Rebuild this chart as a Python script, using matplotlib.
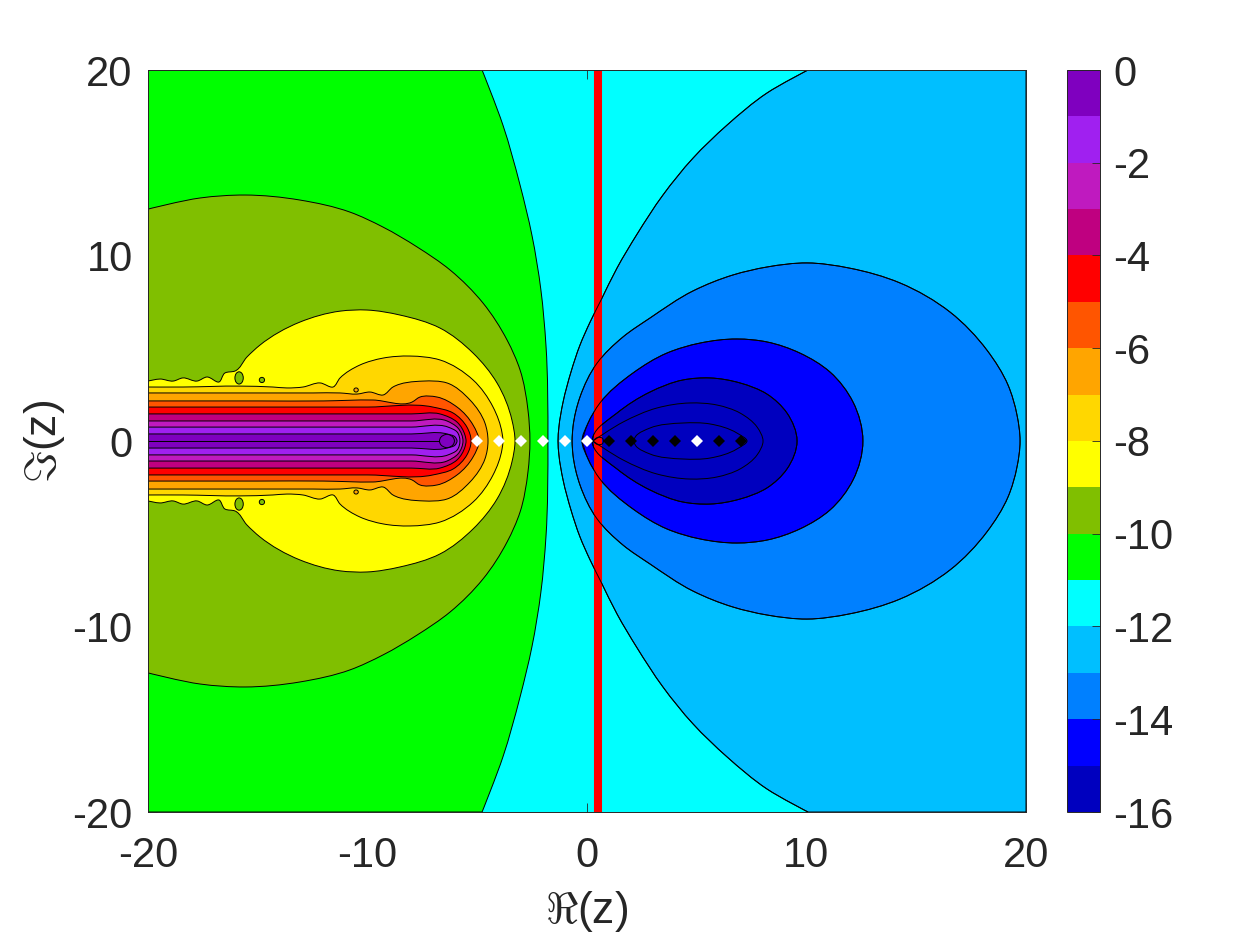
"""
Contour map of log error over the complex plane, outlines traced from the picture
"""
import matplotlib
matplotlib.use('Agg')
import matplotlib.pyplot as plt
from matplotlib.cm import ScalarMappable
from matplotlib.colors import BoundaryNorm, ListedColormap
from matplotlib.patches import Ellipse, PathPatch
from matplotlib.path import Path
import numpy as np

plt.rcParams['font.family'] = ['Liberation Sans', 'DejaVu Sans']
plt.rcParams['mathtext.fontset'] = 'cm'
plt.rcParams['axes.unicode_minus'] = False

levels = list(range(-16, 1))
band_colors = ['#0000BF', '#0000FF', '#0080FF', '#00BFFF', '#00FFFF', '#00FF00', '#80BF00', '#FFFF00',
               '#FFD700', '#FFA500', '#FF5500', '#FF0000', '#BF0080', '#BF1ABF', '#A020F0', '#7F00BF']
axis_ticks = [-20, -10, 0, 10, 20]
cbar_ticks = list(range(-16, 1, 2))

# upper half of each contour, the lower half is its mirror image
c11_x = [-4.78, -3.83, -3.05, -2.51, -2.1, -1.87, -1.78]
c11_y = [20, 17.03, 13.8, 11.1, 8.14, 5.17, 0]
c10_x = [-20, -17.63, -15.58, -13.08, -10.8, -9.29, -7.74, -6.24, -4.74, -3.64, -3.05, -2.69, -2.6]
c10_y = [12.5, 13.1, 13.26, 12.99, 12.34, 11.53, 10.46, 9.22, 7.44, 5.44, 3.83, 1.67, 0]
c9_x = [-20, -19.45, -18.86, -18.41, -17.77, -17.31, -16.77, -16.49, -16.04, -15.49, -14.9, -13.08,
        -11.25, -10.02, -8.52, -6.7, -5.19, -4.1, -3.42, -3.28]
c9_y = [3.23, 3.34, 3.23, 3.4, 3.23, 3.45, 3.18, 3.67, 3.77, 4.53, 5.17, 6.41,
        7.0, 7.06, 6.79, 6.09, 4.74, 3.13, 1.13, 0]
c8_x = [-20, -18.41, -15.81, -14.31, -13.67, -12.94, -12.16, -11.57, -11.25, -10.34, -9.29, -8.06,
        -6.7, -5.19, -4.28, -3.87, -3.83]
c8_y = [2.91, 2.91, 2.96, 2.91, 2.86, 2.91, 3.13, 2.91, 3.4, 4.1, 4.47, 4.58,
        4.37, 3.29, 1.83, 0.43, 0]
c7_x = [-20, -17, -14.31, -12.48, -11.25, -10.48, -9.89, -9.29, -8.84, -7.47, -6.38, -5.33, -4.65, -4.51]
c7_y = [2.59, 2.59, 2.59, 2.59, 2.59, 2.53, 2.64, 2.48, 2.91, 3.23, 3.13, 2.21, 0.97, 0]
c6_x = [-20, -15, -12, -9.75, -7.97, -7.61, -6.83, -5.92, -5.19, -4.92]
c6_y = [2.16, 2.16, 2.16, 2.21, 2.1, 2.37, 2.37, 1.83, 0.86, 0]
c5_x = [-20, -15, -10, -7.02, -6.1, -5.47, -5.28]
c5_y = [1.83, 1.83, 1.83, 1.83, 1.51, 0.75, 0]
c4_x = [-20, -15, -10, -8, -6.7, -5.92, -5.56, -5.51]
c4_y = [1.46, 1.46, 1.46, 1.46, 1.46, 1.02, 0.32, 0]
c3_x = [-20, -15, -10, -8, -6.38, -5.88, -5.65]
c3_y = [1.08, 1.08, 1.08, 1.08, 1.08, 0.7, 0]
c2_x = [-20, -15, -10, -8, -6.33, -5.92, -5.79]
c2_y = [0.75, 0.75, 0.75, 0.75, 0.75, 0.49, 0]
c1_x = [-20, -15, -10, -8, -6.38, -6.01, -5.92]
c1_y = [0.38, 0.38, 0.38, 0.38, 0.38, 0.22, 0]
tip_x = [-6.72, -6.66, -6.38, -6.1, -6.04]
tip_y = [0, 0.2, 0.36, 0.2, 0]

c12_x = [10.07, 8.2, 6.38, 4.83, 3.46, 2.28, 1.37, 0.64, 0.14, -0.32, -0.73, -1.09, -1.28, -1.32]
c12_y = [20, 18.76, 17.03, 15.25, 13.26, 11.15, 9.33, 7.6, 6.41, 5.17, 3.72, 2.1, 0.75, 0]
c13_x = [-0.68, -0.64, -0.32, 0.46, 1.64, 2.87, 4.83, 6.65, 8.2, 10.02, 11.96, 14.26, 16.54, 18.22,
         19.18, 19.59, 19.73]
c13_y = [0, 0.75, 2.37, 4.2, 5.61, 6.63, 8.09, 8.95, 9.38, 9.6, 9.32, 8.52, 6.95, 4.9,
         3.02, 1.4, 0]
c14_x = [-0.23, 0.05, 0.59, 2.1, 3.64, 5.15, 6.83, 8.2, 9.7, 11.07, 12.12, 12.57]
c14_y = [0, 0.97, 2.05, 3.67, 4.74, 5.28, 5.5, 5.34, 4.74, 3.72, 2.1, 0]
c15_x = [0.23, 0.27, 1.37, 2.87, 4.37, 5.6, 6.97, 8.2, 9.11, 9.57]
c15_y = [0, 0.22, 1.51, 2.64, 3.29, 3.4, 3.13, 2.53, 1.51, 0]
c16_x = [0.27, 1.64, 3.19, 4.69, 5.92, 6.97, 7.75, 8.02]
c16_y = [0, 1.02, 1.78, 2.05, 1.94, 1.51, 0.75, 0]
c17_x = [2.1, 2.23, 2.87, 4.37, 5.6, 6.83, 7.29]
c17_y = [0, 0.27, 0.7, 0.97, 0.92, 0.43, 0]
loop_x = [0.27, 0.5, 0.7, 0.75]
loop_y = [0, 0.2, 0.15, 0]

# little islands next to the noisy edge
blob_x = [-15.85, -14.81, -10.52]
blob_y = [3.4, 3.29, 2.75]
blob_w = [0.38, 0.24, 0.2]
blob_h = [0.66, 0.28, 0.22]
blob_colors = ['#80BF00', '#80BF00', '#FFA500']

pole_x = 0.5
white_x = [-5, -4, -3, -2, -1, 0, 5]
black_x = [1, 2, 3, 4, 6, 7]


def mirror(x, y):
    x = list(x)
    y = list(y)
    return np.array(x + x[-2::-1]), np.array(y + [-v for v in y[-2::-1]])


def smooth_path(x, y, closed=False, corners=()):
    pts = np.column_stack([x, y])
    if closed:
        ext = np.vstack([pts[-2], pts, pts[1]])
    else:
        ext = np.vstack([pts[0], pts, pts[-1]])
    seg = np.maximum(np.hypot(*np.diff(ext, axis=0).T), 1e-6)
    # tangents weighted by chord length, the points are unevenly spaced
    tan = np.zeros_like(ext)
    for i in range(1, len(ext) - 1):
        d1, d2 = seg[i - 1], seg[i]
        tan[i] = (d2 * (ext[i] - ext[i - 1]) / d1 + d1 * (ext[i + 1] - ext[i]) / d2) / (d1 + d2)
    verts = [pts[0]]
    codes = [Path.MOVETO]
    for i in range(1, len(ext) - 2):
        d = seg[i]
        verts += [ext[i] + tan[i] * d / 3, ext[i + 1] - tan[i + 1] * d / 3, ext[i + 1]]
        codes += [Path.CURVE4] * 3
    for corner in corners:
        verts.append(corner)
        codes.append(Path.LINETO)
    if corners:
        verts.append(pts[0])
        codes.append(Path.CLOSEPOLY)
    return Path(verts, codes)


def add_band(ax, x, y, color, closed=False, corners=None):
    mx, my = mirror(x, y)
    if corners is None:
        corners = [(mx[-1], my[-1])]
    path = smooth_path(mx, my, closed=closed, corners=() if closed else corners)
    ax.add_patch(PathPatch(path, facecolor=color, edgecolor='black', lw=0.7, zorder=2))


fig = plt.figure(figsize=(12.5, 9.38), dpi=100)
W, H = 1250.0, 938.0
ax = fig.add_axes([148 / W, 1 - 812 / H, 878 / W, 742 / H])
cax = fig.add_axes([1067 / W, 1 - 812 / H, 32.5 / W, 742 / H])

ax.set_facecolor('#00FFFF')
ax.set_xlim(-20, 20)
ax.set_ylim(-20, 20)

color_of = dict(zip(levels[:-1], band_colors))
add_band(ax, c11_x, c11_y, color_of[-11], corners=[(-20, -20), (-20, 20)])
for bx, by, lev in [(c10_x, c10_y, -10), (c9_x, c9_y, -9), (c8_x, c8_y, -8), (c7_x, c7_y, -7),
                    (c6_x, c6_y, -6), (c5_x, c5_y, -5), (c4_x, c4_y, -4), (c3_x, c3_y, -3),
                    (c2_x, c2_y, -2), (c1_x, c1_y, -1)]:
    add_band(ax, bx, by, color_of[lev])
ax.plot([-20, tip_x[0]], [0, 0], color='black', lw=0.7, zorder=3)
add_band(ax, tip_x, tip_y, color_of[-1], closed=True)

for bx, by, bw, bh, bc in zip(blob_x, blob_y, blob_w, blob_h, blob_colors):
    for sign in (1, -1):
        ax.add_patch(Ellipse((bx, sign * by), bw, bh, facecolor=bc, edgecolor='black', lw=0.7, zorder=3))

add_band(ax, c12_x, c12_y, color_of[-13], corners=[(20, -20), (20, 20)])
add_band(ax, c13_x, c13_y, color_of[-14], closed=True)
add_band(ax, c14_x, c14_y, color_of[-15], closed=True)
add_band(ax, c15_x, c15_y, color_of[-16], closed=True)

# red line goes under the contour outlines of the deep levels
ax.plot([pole_x, pole_x], [-20, 20], color='#FF0000', lw=5.8, solid_capstyle='butt', zorder=4)
for bx, by in [(c12_x, c12_y), (c13_x, c13_y), (c14_x, c14_y), (c15_x, c15_y),
               (c16_x, c16_y), (c17_x, c17_y), (loop_x, loop_y)]:
    mx, my = mirror(bx, by)
    ax.add_patch(PathPatch(smooth_path(mx, my), facecolor='none', edgecolor='black', lw=0.7, zorder=5))

ax.plot(white_x, [0] * len(white_x), 'D', color='white', ms=6, mew=0, zorder=6)
ax.plot(black_x, [0] * len(black_x), 'D', color='black', ms=6, mew=0, zorder=6)

ax.set_xticks(axis_ticks)
ax.set_yticks(axis_ticks)
ax.tick_params(direction='in', length=6.3, width=0.6, color='#262626', labelcolor='#262626',
               labelsize=30, top=True, right=True)
ax.tick_params(axis='x', pad=17)
ax.tick_params(axis='y', pad=11)
for spine in ax.spines.values():
    spine.set_linewidth(0.7)
    spine.set_color('#262626')
    spine.set_zorder(7)

ax.set_xlabel(r'$\Re$(z)', fontsize=32, color='#262626', labelpad=9.5)
ax.set_ylabel(r'$\Im$(z)', fontsize=32, color='#262626', labelpad=4)

sm = ScalarMappable(norm=BoundaryNorm(levels, len(band_colors)), cmap=ListedColormap(band_colors))
cbar = fig.colorbar(sm, cax=cax, ticks=cbar_ticks, spacing='proportional')
cbar.ax.set_yticklabels([str(t) for t in cbar_ticks])
cbar.ax.tick_params(direction='in', length=6, width=0.6, color='#262626', labelcolor='#262626',
                    labelsize=30, pad=10)
cbar.ax.minorticks_off()
cbar.outline.set_linewidth(0.7)
cbar.outline.set_edgecolor('#262626')

fig.savefig('out.png', dpi=100)
